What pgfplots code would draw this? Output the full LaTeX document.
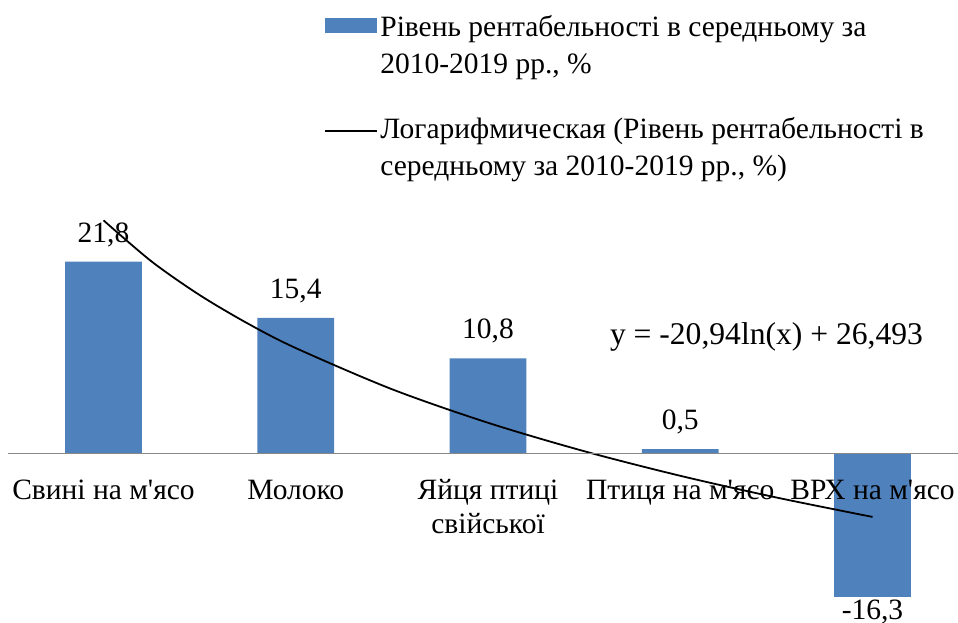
\documentclass[border=0pt]{standalone}
\usepackage{fontspec}
\setmainfont{Liberation Serif}[Ligatures=TeXOff]
\usepackage{pgfplots}
\pgfplotsset{compat=1.18}
\definecolor{barblue}{HTML}{4F81BD}
\definecolor{axgray}{HTML}{898989}
\newcommand\ff{\fontsize{14.75}{17}\selectfont}
\newcommand\lf{\fontsize{14.75}{17.6}\selectfont}
\begin{document}
\ff
\begin{tikzpicture}
\begin{axis}[
  axis on top,
  scale only axis, width=475pt, height=311pt,
  xmin=0.50325, xmax=5.4447, ymin=-19.15, ymax=51.53,
  axis x line=middle, axis y line=none,
  x axis line style={-, draw=axgray, line width=0.75pt},
  xtick={1,2,3,4,5},
  xticklabels={{\strut Свині на м'ясо}, {\strut Молоко}, {\strut Яйця птиці\\свійської\strut}, {\strut Птиця на м'ясо}, {\strut ВРХ на м'ясо}},
  major tick length=0pt,
  x tick label style={font=\ff, align=center, inner sep=0pt, anchor=north, yshift=-10.85pt},
  ytick=\empty,
  clip=false,
  /pgf/number format/use comma, /pgf/number format/fixed,
  /pgf/number format/fixed zerofill, /pgf/number format/precision=1,
  /pgf/number format/assume math mode=true,
  legend style={draw=none, fill=none, inner sep=0pt, outer sep=0pt,
    at={(axis description cs:0.3326,0.9817)}, anchor=north west,
    font=\lf, row sep=18pt, column sep=1.3pt,
    nodes={align=left, inner sep=0pt, font=\lf}, cells={anchor=base west}},
]
\addplot[ybar, bar width=0.4, fill=barblue, draw=none,
  nodes near coords, nodes near coords align={vertical},
  visualization depends on={y \as \rawy},
  every node near coord/.append style={font=\ff, black, inner sep=0pt,
    yshift={7.25pt-8.75pt*(\rawy<0)}},
  legend image code/.code={\fill[barblue] (0pt,20.25pt) rectangle (26pt,27.45pt);}]
  coordinates {(1,21.8) (2,15.4) (3,10.8) (4,0.5) (5,-16.3)};
\addlegendentry{\strut Рівень рентабельності в середньому за\\[1pt]2010-2019 рр., \%\strut}
% logarithmic trend y = -20.94 ln(x) + 26.493
\addplot[black, line width=0.9pt, smooth, mark=none,
  legend image code/.code={\draw[black, line width=0.9pt] (0pt,22.25pt) -- (26pt,22.25pt);}]
  coordinates {(1,26.493) (1.25,21.820) (1.5,18.003) (1.75,14.775) (2,11.979)
    (2.5,7.306) (3,3.488) (3.5,0.260) (4,-2.536) (4.5,-5.002) (5,-7.209)};
\addlegendentry{\strut Логарифмическая (Рівень рентабельності в\\[1pt]середньому за 2010-2019 рр., \%)\strut}
\node[font=\fontsize{15.8}{18}\selectfont, anchor=base] at (axis cs:4.4486,12.33) {y = -20,94ln(x) + 26,493};
\end{axis}
\pgfresetboundingbox
\path ([xshift=-4pt]current axis.south west) rectangle (current axis.north east);
\end{tikzpicture}
\end{document}
